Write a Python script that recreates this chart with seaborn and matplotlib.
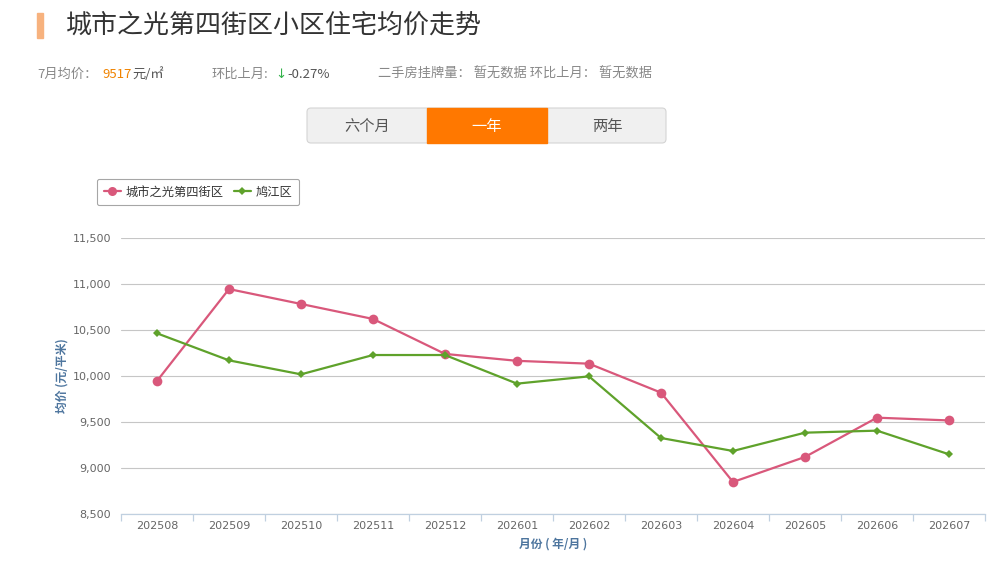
import pandas as pd
import matplotlib
matplotlib.use("Agg")
import matplotlib.pyplot as plt
from matplotlib.patches import FancyBboxPatch, Rectangle
from matplotlib.lines import Line2D
from matplotlib.ticker import FuncFormatter, FixedLocator
import seaborn as sns

# data
months = ["202508", "202509", "202510", "202511", "202512", "202601",
          "202602", "202603", "202604", "202605", "202606", "202607"]
community_name = "城市之光第四街区"
community_price = [9946, 10945, 10783, 10620, 10240, 10165,
                   10134, 9819, 8848, 9120, 9547, 9517]
district_name = "鸠江区"
district_price = [10464, 10170, 10018, 10228, 10228, 9917,
                  9996, 9326, 9185, 9384, 9406, 9149]
y_ticks = [8500, 9000, 9500, 10000, 10500, 11000, 11500]
ranges = ["六个月", "一年", "两年"]

W, H = 991, 578
RED = "#d9587b"
GREEN = "#5fa22b"

sns.set_theme(style="white")
plt.rcParams["font.family"] = ["Noto Sans CJK SC", "DejaVu Sans"]

df = pd.DataFrame({
    "month": months * 2,
    "price": community_price + district_price,
    "series": [community_name] * len(months) + [district_name] * len(months),
})

fig = plt.figure(figsize=(W / 100, H / 100), dpi=100)
fig.patch.set_facecolor("white")


def fx(x):
    return x / W


def fy(y):
    return 1 - y / H


# ---- header ----
fig.patches.append(Rectangle((37 / 100, (H - 38) / 100), 6 / 100, 25 / 100,
                             transform=fig.dpi_scale_trans, color="#f7b27e"))
fig.text(fx(66), fy(25), "城市之光第四街区小区住宅均价走势", fontsize=18.7,
         color="#333333", va="center", ha="left")

fs = 9.5
fig.text(fx(37), fy(74), "7月均价：", fontsize=fs, color="#888888", va="center")
fig.text(fx(102), fy(74), "9517", fontsize=fs, color="#f08300", va="center")
fig.text(fx(132), fy(74), "元/㎡", fontsize=fs, color="#555555", va="center")
fig.text(fx(212), fy(74), "环比上月:", fontsize=fs, color="#888888", va="center")
fig.text(fx(275), fy(74), "↓", fontsize=fs, color="#33b24a", va="center",
         family=["DejaVu Sans"])
fig.text(fx(287), fy(74), "-0.27%", fontsize=fs, color="#555555", va="center")
fig.text(fx(378), fy(74), "二手房挂牌量： 暂无数据 环比上月： 暂无数据",
         fontsize=fs, color="#888888", va="center")

# range buttons
fig.patches.append(FancyBboxPatch((307 / 100, (H - 143) / 100), 359 / 100, 35 / 100,
                                  boxstyle="round,pad=0,rounding_size=0.04",
                                  transform=fig.dpi_scale_trans,
                                  facecolor="#f0f0f0", edgecolor="#d4d4d4", lw=0.8))
fig.patches.append(Rectangle((427 / 100, (H - 143) / 100), 120 / 100, 35 / 100,
                             transform=fig.dpi_scale_trans, color="#ff7800"))
for i, label in enumerate(ranges):
    cx = 367 + i * 120
    fig.text(fx(cx), fy(126), label, fontsize=11, ha="center", va="center",
             color="white" if i == 1 else "#555555")

# ---- chart ----
ax = fig.add_axes([fx(121), fy(514), 864 / W, 276 / H])
sns.lineplot(data=df[df.series == community_name], x="month", y="price",
             color=RED, marker="o", markersize=7, markeredgewidth=0,
             linewidth=1.6, ax=ax, legend=False)
sns.lineplot(data=df[df.series == district_name], x="month", y="price",
             color=GREEN, marker="D", markersize=4.5, markeredgewidth=0,
             linewidth=1.6, ax=ax, legend=False)

ax.set_xlim(-0.5, len(months) - 0.5)
ax.set_ylim(y_ticks[0], y_ticks[-1])
ax.set_yticks(y_ticks)
ax.yaxis.set_major_formatter(FuncFormatter(lambda v, p: f"{int(v):,}"))
ax.grid(axis="y", color="#c6c6c6", lw=0.8)
ax.grid(axis="x", visible=False)
for side in ["top", "right", "left"]:
    ax.spines[side].set_visible(False)
ax.spines["bottom"].set_color("#c0d0e0")
ax.spines["bottom"].set_linewidth(0.9)
ax.set_xlabel("")
ax.set_ylabel("")

ax.xaxis.set_minor_locator(FixedLocator([i - 0.5 for i in range(len(months) + 1)]))
ax.tick_params(axis="x", which="major", length=0, pad=5, labelsize=8,
               labelcolor="#666666")
ax.tick_params(axis="x", which="minor", length=5, width=0.9, color="#c0d0e0",
               bottom=True)
ax.tick_params(axis="y", length=0, pad=7, labelsize=8, labelcolor="#666666")
for lab in ax.get_xticklabels() + ax.get_yticklabels():
    lab.set_family("DejaVu Sans")

fig.text(fx(62), fy(376), "均价 (元/平米)", rotation=90, fontsize=8.5,
         fontweight="bold", color="#4d759e", ha="center", va="center")
fig.text(fx(553), fy(544), "月份 ( 年/月 )", fontsize=8.5, fontweight="bold",
         color="#4d759e", ha="center", va="center")

handles = [
    Line2D([], [], color=RED, marker="o", markersize=6.5, markeredgewidth=0, lw=1.6),
    Line2D([], [], color=GREEN, marker="D", markersize=4.5, markeredgewidth=0, lw=1.6),
]
leg = fig.legend(handles, [community_name, district_name], loc="upper left",
                 bbox_to_anchor=(fx(97), fy(179)), ncol=2, fontsize=8.8,
                 frameon=True, fancybox=True, handlelength=1.4,
                 handletextpad=0.4, columnspacing=0.8, borderpad=0.55,
                 borderaxespad=0, labelcolor="#333333")
leg.get_frame().set_edgecolor("#909090")
leg.get_frame().set_linewidth(0.8)

fig.savefig("out.png", dpi=100, facecolor="white")
